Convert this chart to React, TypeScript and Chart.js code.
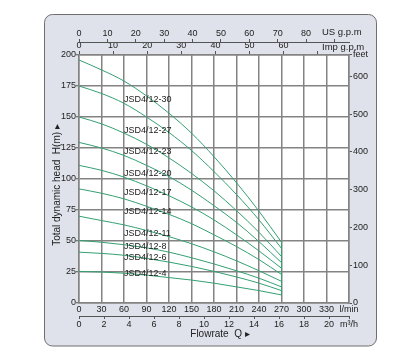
import { useEffect, useRef } from 'react';
import { Chart, registerables } from 'chart.js';

Chart.register(...registerables);

// ---------- data ----------
const flowLpm = [0, 30, 60, 90, 120, 150, 180, 210, 240, 270];

const models = [
  'JSD4/12-30', 'JSD4/12-27', 'JSD4/12-23', 'JSD4/12-20', 'JSD4/12-17',
  'JSD4/12-14', 'JSD4/12-11', 'JSD4/12-8', 'JSD4/12-6', 'JSD4/12-4',
];

const head30 = [196, 188, 179, 167, 153, 137, 118, 97, 74, 49];
const head27 = [175, 169, 161, 150, 137.5, 123, 106, 87.5, 67, 44];
const head23 = [150, 144.5, 137, 128, 117, 104.5, 90.5, 74.5, 57, 37.5];
const head20 = [129.5, 125, 119, 111, 102, 91, 78.5, 65, 49.5, 32.5];
const head17 = [111, 107, 101.5, 94.5, 86.5, 77.5, 67, 55, 42, 28];
const head14 = [92, 88.5, 84, 78, 71.5, 64, 55, 45.5, 35, 23];
const head11 = [70, 66.5, 63, 58.5, 53.5, 47.8, 41.3, 34, 26, 17.5];
const head8 = [50.5, 49, 47, 44.5, 41, 36.5, 31.5, 26, 20, 13];
const head6 = [41, 40, 38.5, 36, 33, 29.5, 25.5, 21, 16, 10];
const head4 = [25.5, 25, 24, 22.5, 20.5, 18.5, 16, 13, 10, 6.5];

const heads = [head30, head27, head23, head20, head17, head14, head11, head8, head6, head4];

// axis ticks / labels
const lpmTicks = [0, 30, 60, 90, 120, 150, 180, 210, 240, 270, 300, 330, 360];
const lpmLabels = ['0', '30', '60', '90', '120', '150', '180', '210', '240', '270', '300', '330', 'l/min'];
const headTicks = [0, 25, 50, 75, 100, 125, 150, 175, 200];
const m3hTicks = [0, 2, 4, 6, 8, 10, 12, 14, 16, 18, 20, 21.6];
const m3hLabels = ['0', '2', '4', '6', '8', '10', '12', '14', '16', '18', '20', 'm³/h'];
const usTicks = [0, 10, 20, 30, 40, 50, 60, 70, 80, 90];
const usLabels = ['0', '10', '20', '30', '40', '50', '60', '70', '80', ''];
const impTicks = [0, 10, 20, 30, 40, 50, 60, 70];
const impLabels = ['0', '10', '20', '30', '40', '50', '60', ''];
const feetTicks = [0, 100, 200, 300, 400, 500, 600, 656.17];
const feetLabels = ['0', '100', '200', '300', '400', '500', '600', 'feet'];

// unit conversions
const Q_MAX = 360; // l/min
const H_MAX = 200; // m
const L_PER_USGAL = 3.785411784;
const L_PER_IMPGAL = 4.54609;
const M_PER_FT = 0.3048;

// ---------- layout / style ----------
const FONT = 'Liberation Sans, Arial, sans-serif';
const GRID = '#838383';
const AXIS = '#555555';
const TXT = '#222222';
const CURVE = '#34a072';
const PANEL = '#dfe2ea';
const LABEL_Q = 60;
const LABEL_H = [164.5, 138.7, 122, 104.6, 89.3, 73.6, 56.2, 45.4, 36.5, 23.4];

const decorPlugin = {
  id: 'decor',
  beforeDraw(chart: any) {
    const { ctx, chartArea } = chart;
    ctx.save();
    // panel
    const x0 = 44.5, y0 = 14.5, x1 = 376.5, y1 = 346, r = 8;
    ctx.beginPath();
    ctx.moveTo(x0 + r, y0);
    ctx.arcTo(x1, y0, x1, y1, r);
    ctx.arcTo(x1, y1, x0, y1, r);
    ctx.arcTo(x0, y1, x0, y0, r);
    ctx.arcTo(x0, y0, x1, y0, r);
    ctx.closePath();
    ctx.fillStyle = PANEL;
    ctx.fill();
    ctx.strokeStyle = '#6e6e6e';
    ctx.lineWidth = 1;
    ctx.stroke();
    // plot area
    ctx.fillStyle = '#ffffff';
    ctx.fillRect(chartArea.left, chartArea.top, chartArea.right - chartArea.left, chartArea.bottom - chartArea.top);
    ctx.restore();
  },
  afterDraw(chart: any) {
    const { ctx, scales } = chart;
    ctx.save();
    ctx.fillStyle = TXT;
    // curve labels
    ctx.font = `9px ${FONT}`;
    ctx.textAlign = 'left';
    ctx.textBaseline = 'middle';
    models.forEach((m, i) => {
      ctx.fillText(m, scales.x.getPixelForValue(LABEL_Q), scales.y.getPixelForValue(LABEL_H[i]));
    });
    // unit labels on top axes
    ctx.font = `9.5px ${FONT}`;
    ctx.fillText('US g.p.m', 322, 32);
    ctx.fillText('Imp g.p.m', 322, 47);
    // x title
    ctx.font = `10px ${FONT}`;
    ctx.textAlign = 'center';
    ctx.fillText('Flowrate  Q ▸', 220, 334);
    // y title
    ctx.translate(57, 185);
    ctx.rotate(-Math.PI / 2);
    ctx.fillText('Total dynamic head  H(m) ▸', 0, 0);
    ctx.restore();
  },
};

const tickFont = { family: FONT, size: 9 };

export default function App() {
  const ref = useRef<HTMLCanvasElement | null>(null);

  useEffect(() => {
    document.body.style.margin = '0';
    if (!ref.current) return;
    const datasets: any[] = heads.map((h, i) => ({
      label: models[i],
      data: flowLpm.map((q, j) => ({ x: q, y: h[j] })),
      borderColor: CURVE,
      borderWidth: 1,
      pointRadius: 0,
      fill: false,
      cubicInterpolationMode: 'monotone',
      xAxisID: 'x',
      yAxisID: 'y',
    }));
    const last = flowLpm.length - 1;
    datasets.push({
      label: 'end',
      data: [
        { x: flowLpm[last], y: head4[last] },
        { x: flowLpm[last], y: head30[last] },
      ],
      borderColor: CURVE,
      borderWidth: 1,
      pointRadius: 0,
      fill: false,
      xAxisID: 'x',
      yAxisID: 'y',
    });

    const setTicks = (vals: number[]) => (scale: any) => {
      scale.ticks = vals.map((v) => ({ value: v }));
    };

    const chart = new Chart(ref.current, {
      type: 'line',
      data: { datasets },
      plugins: [decorPlugin],
      options: {
        animation: false,
        responsive: false,
        devicePixelRatio: 1,
        layout: { padding: { left: 49, right: 40, top: 25, bottom: 31 } },
        plugins: { legend: { display: false }, tooltip: { enabled: false } },
        scales: {
          x: {
            type: 'linear', position: 'bottom', weight: 0, min: 0, max: Q_MAX,
            afterBuildTicks: setTicks(lpmTicks),
            ticks: { autoSkip: false, maxRotation: 0, padding: 1, color: TXT, font: tickFont, callback: (_v: any, i: number) => lpmLabels[i] },
            grid: { color: GRID, lineWidth: 1.5, drawTicks: false },
            border: { color: GRID, width: 1.5 },
            afterFit: (s: any) => { s.height = 13; },
          },
          m3h: {
            type: 'linear', position: 'bottom', weight: 1, min: 0, max: Q_MAX * 0.06,
            afterBuildTicks: setTicks(m3hTicks),
            ticks: { autoSkip: false, maxRotation: 0, padding: 0, color: TXT, font: tickFont, callback: (_v: any, i: number) => m3hLabels[i] },
            grid: { drawOnChartArea: false, drawTicks: true, tickLength: 3, color: AXIS, tickColor: AXIS },
            border: { color: AXIS, width: 1 },
            afterFit: (s: any) => { s.height = 14; },
          },
          y: {
            type: 'linear', position: 'left', min: 0, max: H_MAX,
            afterBuildTicks: setTicks(headTicks),
            ticks: { autoSkip: false, padding: 0, color: TXT, font: tickFont },
            grid: { color: GRID, lineWidth: 1.5, tickLength: 3, tickColor: AXIS, tickWidth: 1 },
            border: { color: GRID, width: 1.5 },
            afterFit: (s: any) => { s.width = 30; },
          },
          feet: {
            type: 'linear', position: 'right', min: 0, max: H_MAX / M_PER_FT,
            afterBuildTicks: setTicks(feetTicks),
            ticks: { autoSkip: false, padding: 1, color: TXT, font: tickFont, callback: (_v: any, i: number) => feetLabels[i] },
            grid: { drawOnChartArea: false, tickLength: 3, color: AXIS, tickColor: AXIS },
            border: { color: GRID, width: 1.5 },
            afterFit: (s: any) => { s.width = 26; },
          },
          imp: {
            type: 'linear', position: 'top', weight: 0, min: 0, max: Q_MAX / L_PER_IMPGAL,
            afterBuildTicks: setTicks(impTicks),
            ticks: { autoSkip: false, maxRotation: 0, padding: 0, color: TXT, font: tickFont, callback: (_v: any, i: number) => impLabels[i] },
            grid: { drawOnChartArea: false, tickLength: 4, color: AXIS, tickColor: AXIS },
            border: { color: GRID, width: 1.5 },
            afterFit: (s: any) => { s.height = 13; },
          },
          us: {
            type: 'linear', position: 'top', weight: 1, min: 0, max: Q_MAX / L_PER_USGAL,
            afterBuildTicks: setTicks(usTicks),
            ticks: { autoSkip: false, maxRotation: 0, padding: 0, color: TXT, font: tickFont, callback: (_v: any, i: number) => usLabels[i] },
            grid: { drawOnChartArea: false, tickLength: 3, color: AXIS, tickColor: AXIS },
            border: { color: AXIS, width: 1 },
            afterFit: (s: any) => { s.height = 17; },
          },
        },
      } as any,
    });
    return () => chart.destroy();
  }, []);

  return (
    <div style={{ position: 'absolute', left: 0, top: 0, width: 415, height: 361 }}>
      <canvas ref={ref} width={415} height={361} />
    </div>
  );
}
